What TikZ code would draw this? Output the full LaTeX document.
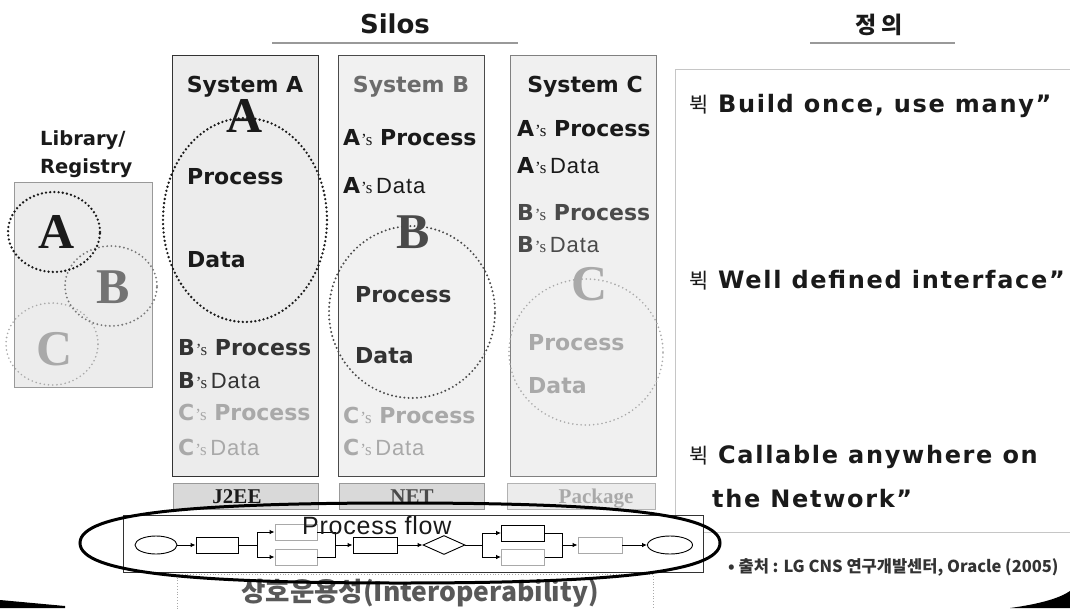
\documentclass[tikz,border=0pt]{standalone}
\usepackage{fontspec}
\setmainfont{DejaVu Sans}
\newfontfamily\wfont{DejaVu Sans}[LetterSpace=7]
\newfontfamily\sfont{Liberation Serif}
\newfontfamily\nfont{Liberation Sans}[LetterSpace=4]
\newfontfamily\pfont{Liberation Sans}[LetterSpace=3]
\newfontfamily\cjk{Noto Sans CJK KR}
\usetikzlibrary{arrows.meta,shapes.geometric}
\definecolor{ink}{HTML}{1A1A1A}
\definecolor{midg}{HTML}{4A4A4A}
\definecolor{darkg}{HTML}{333333}
\definecolor{lgt}{HTML}{A9A9A9}
\definecolor{boxA}{HTML}{ECECEC}
\definecolor{boxB}{HTML}{F1F1F1}
\definecolor{boxC}{HTML}{F0F0F0}
\definecolor{platA}{HTML}{D9D9D9}
\definecolor{platC}{HTML}{ECECEC}
\newcommand\poss{{\sfont\mdseries\fontsize{17}{17}\selectfont\kern1pt’s}}
\newcommand\dat{{\nfont\mdseries Data}}
\tikzset{
  t/.style={inner sep=0, anchor=base west, text=ink, font=\fontsize{22}{22}\selectfont\bfseries},
  tc/.style={t, anchor=base},
  big/.style={inner sep=0, anchor=base, font=\sfont\bfseries\fontsize{50}{50}\selectfont},
  dots/.style={ellipse, inner sep=0, line cap=round, dash pattern=on 0pt off 4.2pt},
  sysbox/.style={anchor=north west, inner sep=0, line width=1.1pt, minimum width=146pt, minimum height=421pt},
  plat/.style={anchor=north west, inner sep=0, line width=0.8pt, minimum height=26pt, minimum width=145pt},
  platt/.style={inner sep=0, anchor=base, font=\sfont\bfseries\fontsize{21}{21}\selectfont},
  rt/.style={inner sep=0, anchor=base west, text=ink, font=\wfont\bfseries\fontsize{24}{24}\selectfont},
  bul/.style={inner sep=0, anchor=base west, text=ink, font=\cjk\fontsize{21}{21}\selectfont},
  fb/.style={draw, rectangle, inner sep=0, minimum width=42pt, minimum height=16pt, line width=0.9pt, fill=white},
  arr/.style={-{Latex[length=5pt,width=4.5pt]}, line width=0.9pt},
  ln/.style={line width=0.9pt},
  uline/.style={draw=gray!80, line width=2pt}
}
\begin{document}
\begin{tikzpicture}[x=1pt,y=-1pt]
\useasboundingbox (0,0) rectangle (1070,608);
\clip (0,0) rectangle (1070,608);
\fill[white] (0,0) rectangle (1070,608);

% headers
\node[tc, font=\fontsize{26}{26}\selectfont\bfseries] (silos) at (395,33) {Silos};
\coordinate (su1) at (272,43); \coordinate (su2) at (518,43);
\draw[uline] (su1) -- (su2);
\node[inner sep=0, anchor=base, text=ink, font=\cjk\bfseries\fontsize{23}{23}\selectfont] (jy) at (879,33) {정 의};
\coordinate (ju1) at (810,43); \coordinate (ju2) at (955,43);
\draw[uline] (ju1) -- (ju2);

% library
\node[t, font=\fontsize{19.5}{19.5}\selectfont\bfseries] (libt) at (40,145) {Library/};
\node[t, font=\fontsize{19.5}{19.5}\selectfont\bfseries] (regt) at (40,173) {Registry};
\node[anchor=north west, inner sep=0, draw=gray!80, fill=boxA, line width=1pt, minimum width=138pt, minimum height=205pt] (libbox) at (14,182) {};
\node[dots, draw=lgt, line width=1.8pt, minimum width=92pt, minimum height=82pt] (lC) at (52,344) {};
\node[big, text=lgt] (lCl) at (55,365) {C};
\node[dots, draw=gray!95!black, line width=2.1pt, minimum width=92pt, minimum height=80pt] (lB) at (111,286) {};
\node[big, text=gray!90!black] (lBl) at (113,303) {B};
\node[dots, draw=ink, line width=2.6pt, minimum width=92pt, minimum height=80pt] (lA) at (54,232) {};
\node[big, text=ink] (lAl) at (57,248) {A};

% system A
\node[sysbox, draw=darkg, fill=boxA] (sysA) at (172,55) {};
\node[tc] (sAt) at (245,92) {System A};
\node[dots, draw=ink, line width=2.6pt, minimum width=164pt, minimum height=204pt] (sAe) at (245,220) {};
\node[big, text=ink] (sAl) at (245,132) {A};
\node[t] (sAp) at (187,184) {Process};
\node[t] (sAd) at (187,267) {Data};
\node[t, text=darkg] (sAbp) at (178,355) {B\poss\ Process};
\node[t, text=darkg] (sAbd) at (178,388) {B\poss\,\dat};
\node[t, text=lgt] (sAcp) at (178,420) {C\poss\ Process};
\node[t, text=lgt] (sAcd) at (178,455) {C\poss\,\dat};

% system B
\node[sysbox, draw=midg, fill=boxB] (sysB) at (338,55) {};
\node[tc, text=gray!85!black] (sBt) at (411,92) {System B};
\node[t] (sBap) at (343,145) {A\poss\ Process};
\node[t] (sBad) at (343,193) {A\poss\,\dat};
\node[dots, draw=midg, line width=2.2pt, minimum width=166pt, minimum height=172pt] (sBe) at (412,312) {};
\node[big, text=midg] (sBl) at (413,248) {B};
\node[t, text=darkg] (sBp) at (355,302) {Process};
\node[t, text=darkg] (sBd) at (355,363) {Data};
\node[t, text=lgt] (sBcp) at (343,423) {C\poss\ Process};
\node[t, text=lgt] (sBcd) at (343,455) {C\poss\,\dat};

% system C
\node[sysbox, draw=gray, fill=boxC] (sysC) at (510,55) {};
\node[tc] (sCt) at (585,92) {System C};
\node[t] (sCap) at (517,136) {A\poss\ Process};
\node[t] (sCad) at (517,173) {A\poss\,\dat};
\node[t, text=midg] (sCbp) at (517,220) {B\poss\ Process};
\node[t, text=midg] (sCbd) at (517,252) {B\poss\,\dat};
\node[dots, draw=lgt, line width=1.8pt, minimum width=154pt, minimum height=146pt] (sCe) at (586,352) {};
\node[big, text=lgt] (sCl) at (590,300) {C};
\node[t, text=lgt] (sCp) at (528,350) {Process};
\node[t, text=lgt] (sCd) at (528,393) {Data};

% platforms
\node[plat, draw=gray!80, fill=platA] (pj) at (173,483) {};
\node[platt, text=ink] (pjt) at (237,503) {J2EE};
\node[plat, draw=gray!80, fill=platA] (pn) at (339,483) {};
\node[platt, text=midg] (pnt) at (412,503) {NET};
\node[plat, draw=gray!60, fill=platC, minimum width=148pt] (pp) at (507,483) {};
\node[platt, text=lgt] (ppt) at (596,503) {Package};

% definition panel
\node[anchor=north west, inner sep=0, draw=gray!45, fill=white, line width=1pt, minimum width=420pt, minimum height=463pt] (defbox) at (675,69) {};
\node[bul] (g1) at (689,112) {뷕};
\node[rt] (d1) at (718,112) {Build once, use many”};
\node[bul] (g2) at (689,288) {뷕};
\node[rt] (d2) at (718,288) {Well defined interface”};
\node[bul] (g3) at (689,463) {뷕};
\node[rt] (d3) at (718,463) {Callable anywhere on};
\node[rt] (d4) at (712,507) {the Network”};
\node[inner sep=0, anchor=base west, text=darkg, font=\cjk\bfseries\fontsize{16.5}{16.5}\selectfont] (src) at (728,572) {• 출처 : LG CNS 연구개발센터, Oracle (2005)};

% interoperability
\node[anchor=north west, inner sep=0, draw=lgt, dotted, line width=0.8pt, minimum width=476pt, minimum height=50pt] (iobox) at (177,574) {};
\node[inner sep=0, anchor=base, text=gray!70!black, font=\cjk\bfseries\fontsize{26.5}{26.5}\selectfont] (io) at (420,601) {상호운용성(Interoperability)};

% process flow
\node[anchor=north west, inner sep=0, draw=darkg, fill=white, line width=1.2pt, minimum width=580pt, minimum height=57pt] (pfbox) at (123,515) {};
\node[draw, ellipse, inner sep=0, minimum width=42pt, minimum height=18pt, line width=0.9pt] (s0) at (156,545) {};
\node[fb] (r1) at (217,545) {};
\node[fb, draw=lgt] (r2u) at (296,532) {};
\node[fb, draw=lgt] (r2d) at (296,557) {};
\node[fb, minimum width=44pt] (r3) at (375,545) {};
\node[draw, diamond, aspect=2.2, inner sep=0, minimum width=42pt, minimum height=19pt, line width=0.9pt] (dm) at (444,545) {};
\node[fb, minimum width=43pt] (r4u) at (523,533) {};
\node[fb, draw=lgt, minimum width=43pt] (r4d) at (523,557) {};
\node[fb, draw=lgt, minimum width=44pt] (r5) at (600,545) {};
\node[draw, ellipse, inner sep=0, minimum width=45pt, minimum height=18pt, line width=0.9pt] (e0) at (670,545) {};
\coordinate (sp1) at (257,545);
\coordinate (mg1) at (335,545);
\coordinate (sp2) at (482,545);
\coordinate (mg2) at (562,545);
\draw[arr] (s0) -- (r1);
\draw[ln] (r1) -- (sp1);
\draw[arr] (sp1) |- (r2u);
\draw[arr] (sp1) |- (r2d);
\draw[ln] (r2u.east) -| (mg1);
\draw[ln] (r2d.east) -| (mg1);
\draw[arr] (mg1) -- (r3);
\draw[arr] (r3) -- (dm);
\draw[ln] (dm) -- (sp2);
\draw[arr] (sp2) |- (r4u);
\draw[arr] (sp2) |- (r4d);
\draw[ln] (r4u.east) -| (mg2);
\draw[ln] (r4d.east) -| (mg2);
\draw[arr] (mg2) -- (r5);
\draw[arr] (r5) -- (e0);
\node[inner sep=0, anchor=base west, text=ink, font=\pfont\fontsize{25}{25}\selectfont] (pft) at (302,534) {Process flow};

% big ellipse around the flow
\draw[line width=3pt] (80,543) .. controls (80,513) and (192,503) .. (400,503)
  .. controls (608,503) and (720,513) .. (720,543)
  .. controls (720,573) and (608,583) .. (400,583)
  .. controls (192,583) and (80,573) .. (80,543) -- cycle;

% frame swooshes
\fill[black] (0,600) -- (65,606) -- (65,608) -- (0,608) -- cycle;
\fill[black] (1010,608) .. controls (1040,604) and (1060,598) .. (1070,591) -- (1070,608) -- cycle;
\end{tikzpicture}
\end{document}
